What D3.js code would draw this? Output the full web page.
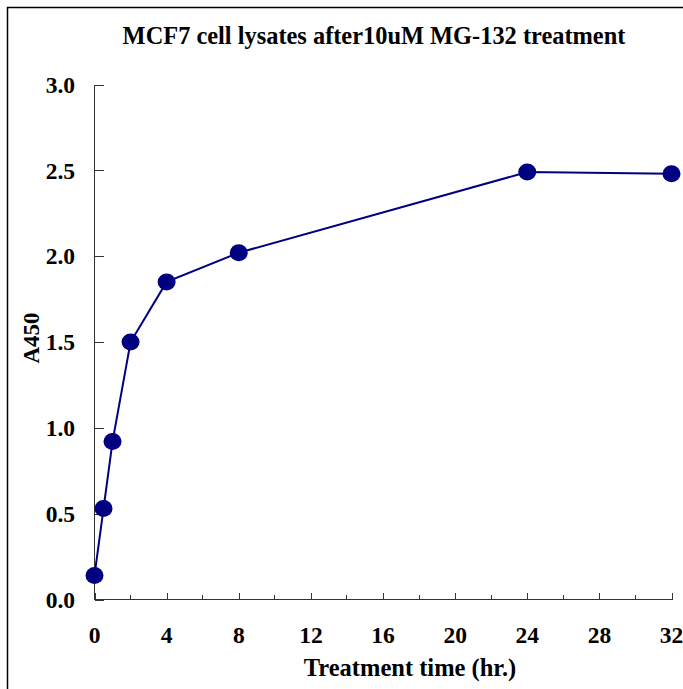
<!DOCTYPE html>
<head>
  <meta charset="utf-8">
  <style>
    body { margin: 0; background: #fff; }
    svg { display: block; }
    text { font-family: "Liberation Serif", "Times New Roman", serif; font-weight: bold; fill: #000; }
    .axis path, .axis line { stroke: #333; stroke-width: 1px; shape-rendering: crispEdges; }
  </style>
</head>
<body>
  <svg></svg>
  <script src="https://d3js.org/d3.v7.min.js"></script>
  <script>
    // treatment time (hr.) and A450 readings
    const hours = [0, 0.5, 1, 2, 4, 8, 24, 32];
    const a450 = [0.14, 0.53, 0.92, 1.50, 1.85, 2.02, 2.49, 2.48];
    const yTicks = [0, 0.5, 1, 1.5, 2, 2.5, 3];
    const xMajor = [0, 4, 8, 12, 16, 20, 24, 28, 32];
    const xMinor = [2, 6, 10, 14, 18, 22, 26, 30];

    const width = 683, height = 689;
    const svg = d3.select('svg').attr('width', width).attr('height', height);

    // outer frame, runs off the right/bottom edge
    svg.append('rect')
      .attr('x', 7.5).attr('y', 7.5)
      .attr('width', width).attr('height', height)
      .attr('fill', 'none').attr('stroke', '#000').attr('stroke-width', 1.5);

    const x = d3.scaleLinear().domain([0, 32]).range([94.5, 671.5]);
    const y = d3.scaleLinear().domain([0, 3]).range([599.5, 84.5]);

    svg.append('text')
      .attr('x', 374).attr('y', 44)
      .attr('text-anchor', 'middle')
      .style('font-size', '24.4px')
      .text('MCF7 cell lysates after10uM MG-132 treatment');

    // y axis, ticks point inward
    const gy = svg.append('g').attr('class', 'axis')
      .attr('transform', 'translate(' + x(0) + ',0)')
      .call(d3.axisRight(y).tickValues(yTicks).tickSize(9).tickSizeOuter(0).tickFormat(''));
    gy.select('.domain').attr('d', 'M0,' + y(3) + 'V' + y(0));

    svg.selectAll('.ylab').data(yTicks).enter().append('text')
      .attr('class', 'ylab')
      .attr('x', 75).attr('y', d => y(d))
      .attr('dy', '0.35em')
      .attr('text-anchor', 'end')
      .style('font-size', '23.5px')
      .text(d3.format('.1f'));

    // x axis, major and minor ticks point up
    const gx = svg.append('g').attr('class', 'axis')
      .attr('transform', 'translate(0,' + y(0) + ')');
    gx.call(d3.axisTop(x).tickValues(xMajor).tickSize(7).tickSizeOuter(0).tickFormat(''));
    gx.select('.domain').attr('d', 'M' + x(0) + ',0H' + x(32));
    gx.selectAll('.minor').data(xMinor).enter().append('line')
      .attr('class', 'minor')
      .attr('x1', d => x(d)).attr('x2', d => x(d))
      .attr('y1', 0).attr('y2', -5);

    svg.selectAll('.xlab').data(xMajor).enter().append('text')
      .attr('class', 'xlab')
      .attr('x', d => x(d)).attr('y', 643)
      .attr('text-anchor', 'middle')
      .style('font-size', '23.5px')
      .text(d => d);

    svg.append('text')
      .attr('x', 410).attr('y', 676)
      .attr('text-anchor', 'middle')
      .style('font-size', '24.5px')
      .text('Treatment time (hr.)');

    svg.append('text')
      .attr('transform', 'translate(39,338) rotate(-90)')
      .attr('text-anchor', 'middle')
      .style('font-size', '23px')
      .text('A450');

    const pts = hours.map((h, i) => [h, a450[i]]);

    svg.append('path')
      .datum(pts)
      .attr('fill', 'none')
      .attr('stroke', '#000080')
      .attr('stroke-width', 2)
      .attr('d', d3.line().x(d => x(d[0])).y(d => y(d[1])));

    svg.selectAll('.dot').data(pts).enter().append('ellipse')
      .attr('class', 'dot')
      .attr('cx', d => x(d[0])).attr('cy', d => y(d[1]))
      .attr('rx', 9).attr('ry', 8.5)
      .attr('fill', '#000080');
  </script>
</body>
